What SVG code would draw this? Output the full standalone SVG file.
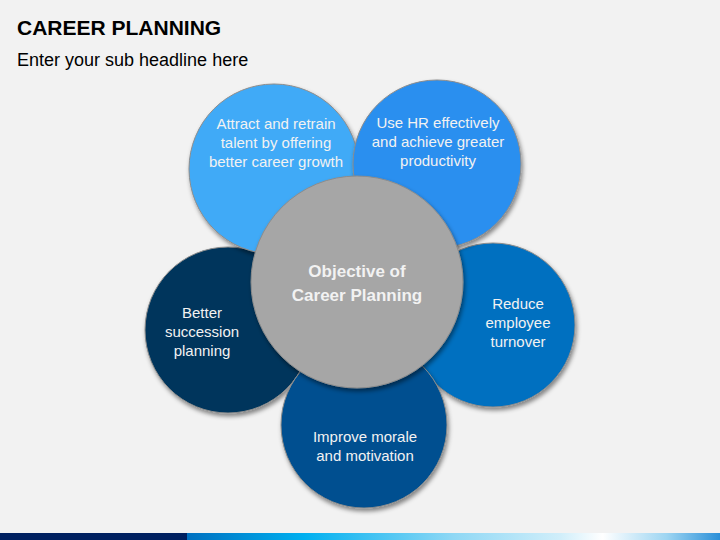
<svg xmlns="http://www.w3.org/2000/svg" width="720" height="540" viewBox="0 0 720 540">
<defs>
<style>
.t{font-family:"Liberation Sans",Arial,sans-serif;fill:#F2F2F2;text-anchor:middle;font-size:15px}
.c{stroke:#8C8C8C;stroke-width:1;filter:url(#sh)}
</style>
<filter id="sh" x="-20%" y="-20%" width="140%" height="140%">
<feDropShadow dx="1.5" dy="3" stdDeviation="2" flood-color="#000" flood-opacity="0.45"/>
</filter>
<linearGradient id="bar" x1="187" y1="0" x2="720" y2="0" gradientUnits="userSpaceOnUse">
<stop offset="0" stop-color="#0070C0"/>
<stop offset="0.22" stop-color="#00B0F0"/>
<stop offset="0.5" stop-color="#8FD8F5"/>
<stop offset="0.7" stop-color="#D0EEFA"/>
<stop offset="0.78" stop-color="#FFFFFF"/>
<stop offset="0.9" stop-color="#9DD5F2"/>
<stop offset="1" stop-color="#2A8FD8"/>
</linearGradient>
</defs>
<rect width="720" height="540" fill="#F2F2F2"/>
<text x="17" y="35" style="font-family:'Liberation Sans',Arial,sans-serif;font-weight:bold;font-size:21px;fill:#000">CAREER PLANNING</text>
<text x="17" y="66" style="font-family:'Liberation Sans',Arial,sans-serif;font-size:18px;fill:#000">Enter your sub headline here</text>
<g id="left">
<circle class="c" cx="228" cy="330" r="83" fill="#00365C"/>
<text class="t" x="202" y="318">Better</text>
<text class="t" x="202" y="337">succession</text>
<text class="t" x="202" y="356">planning</text>
</g>
<g id="right">
<circle class="c" cx="493" cy="325" r="82" fill="#0070C0"/>
<text class="t" x="518" y="309">Reduce</text>
<text class="t" x="518" y="328">employee</text>
<text class="t" x="518" y="347">turnover</text>
</g>
<g id="topleft">
<circle class="c" cx="274" cy="169" r="85" fill="#41AAF7"/>
<text class="t" x="276" y="129">Attract and retrain</text>
<text class="t" x="276" y="148">talent by offering</text>
<text class="t" x="276" y="167">better career growth</text>
</g>
<g id="topright">
<circle class="c" cx="437" cy="164" r="84" fill="#2B8FEF"/>
<text class="t" x="438" y="128">Use HR effectively</text>
<text class="t" x="438" y="147">and achieve greater</text>
<text class="t" x="438" y="166">productivity</text>
</g>
<g id="bottom">
<circle class="c" cx="364" cy="425" r="83" fill="#005090"/>
<text class="t" x="365" y="442">Improve morale</text>
<text class="t" x="365" y="461">and motivation</text>
</g>
<g id="center">
<circle class="c" cx="357" cy="282" r="106" fill="#A6A6A6"/>
<text class="t" x="357" y="277" style="font-weight:bold;font-size:17px">Objective of</text>
<text class="t" x="357" y="301" style="font-weight:bold;font-size:17px">Career Planning</text>
</g>
<g id="connectors"/>
<rect x="0" y="533" width="187" height="7" fill="#002060"/>
<rect x="187" y="533" width="533" height="7" fill="url(#bar)"/>
</svg>
